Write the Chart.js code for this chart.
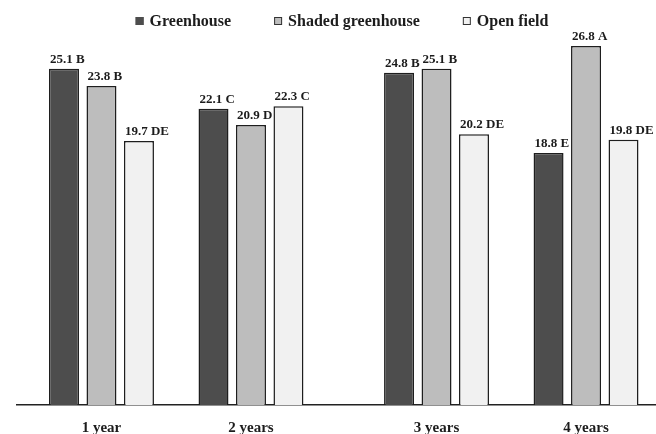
<!DOCTYPE html>
<html>
<head>
<meta charset="utf-8">
<script src="https://cdn.jsdelivr.net/npm/chart.js@4/dist/chart.umd.min.js"></script>
<style>
  html, body { margin: 0; padding: 0; background: #fff; }
</style>
</head>
<body>
<canvas id="chart" width="656" height="434"></canvas>
<script>
const categories = ["1 year", "2 years", "3 years", "4 years"];
const seriesNames = ["Greenhouse", "Shaded greenhouse", "Open field"];
const greenhouse = [25.1, 22.1, 24.8, 18.8];
const shaded = [23.8, 20.9, 25.1, 26.8];
const openField = [19.7, 22.3, 20.2, 19.8];
const greenhouseLetters = ["B", "C", "B", "E"];
const shadedLetters = ["B", "D", "B", "A"];
const openLetters = ["DE", "C", "DE", "DE"];

// where the groups sit on the x axis (gap before year 3 is wider)
const groupPos = [1, 2, 3.241, 4.241];

const serif = '"Liberation Serif", "DejaVu Serif", serif';
const ink = "#1c1c1c";

function pts(vals) {
    return vals.map((v, i) => ({ x: groupPos[i], y: v }));
}

const letters = [greenhouseLetters, shadedLetters, openLetters];

// value + letter above each bar, left edge on the bar
const barLabels = {
    id: "barLabels",
    afterDatasetsDraw(chart) {
        let ctx = chart.ctx;
        ctx.save();
        ctx.font = "bold 13px " + serif;
        ctx.fillStyle = ink;
        ctx.textAlign = "left";
        ctx.textBaseline = "alphabetic";
        chart.data.datasets.forEach((ds, d) => {
            chart.getDatasetMeta(d).data.forEach((bar, i) => {
                let txt = ds.data[i].y.toFixed(1) + " " + letters[d][i];
                ctx.fillText(txt, bar.x - bar.width / 2 + 1, bar.y - 6);
            });
        });
        ctx.restore();
    }
};

// legend row drawn by hand so it can sit where the original one is
const topLegend = {
    id: "topLegend",
    afterDraw(chart) {
        let ctx = chart.ctx;
        ctx.save();
        ctx.font = "bold 16px " + serif;
        let box = 8, gapText = 6, gapItem = 43;
        let widths = chart.data.datasets.map(ds => ctx.measureText(ds.label).width);
        let total = widths.reduce((a, w) => a + box + gapText + w, 0) + gapItem * (widths.length - 1);
        let x = 342 - total / 2;
        chart.data.datasets.forEach((ds, d) => {
            ctx.fillStyle = ds.backgroundColor;
            ctx.fillRect(x, 17, box, box);
            ctx.strokeStyle = d === 0 ? ds.backgroundColor : "#333";
            ctx.lineWidth = 1;
            ctx.strokeRect(x + 0.5, 17.5, box - 1, box - 1);
            ctx.fillStyle = ink;
            ctx.textBaseline = "alphabetic";
            ctx.fillText(ds.label, x + box + gapText, 26);
            x += box + gapText + widths[d] + gapItem;
        });
        ctx.restore();
    }
};

let ctx = document.getElementById("chart").getContext("2d");
new Chart(ctx, {
    type: "bar",
    data: {
        datasets: [
            { label: seriesNames[0], data: pts(greenhouse), backgroundColor: "#4d4d4d" },
            { label: seriesNames[1], data: pts(shaded), backgroundColor: "#bdbdbd" },
            { label: seriesNames[2], data: pts(openField), backgroundColor: "#f1f1f1" }
        ].map(ds => Object.assign(ds, {
            borderColor: "#1e1e1e",
            borderWidth: 1.5,
            categoryPercentage: 0.752,
            barPercentage: 0.8
        }))
    },
    options: {
        responsive: false,
        animation: false,
        // negative bottom: the axis reserves twice the tick padding
        layout: { padding: { left: 17, right: 0, top: 3, bottom: -17 } },
        plugins: {
            legend: { display: false },
            tooltip: { enabled: false }
        },
        scales: {
            x: {
                type: "linear",
                min: 0.435,
                max: 4.709,
                offset: false,
                grid: { display: false, drawTicks: false, offset: false },
                border: { display: true, color: "#222", width: 1.5 },
                afterBuildTicks: scale => {
                    scale.ticks = groupPos.map(v => ({ value: v }));
                },
                ticks: {
                    autoSkip: false,
                    maxRotation: 0,
                    padding: 14,
                    color: ink,
                    font: { family: serif, size: 15, weight: "bold" },
                    callback: (value, index) => categories[index]
                }
            },
            y: {
                display: false,
                min: 0,
                max: 30
            }
        }
    },
    plugins: [barLabels, topLegend]
});
</script>
</body>
</html>
